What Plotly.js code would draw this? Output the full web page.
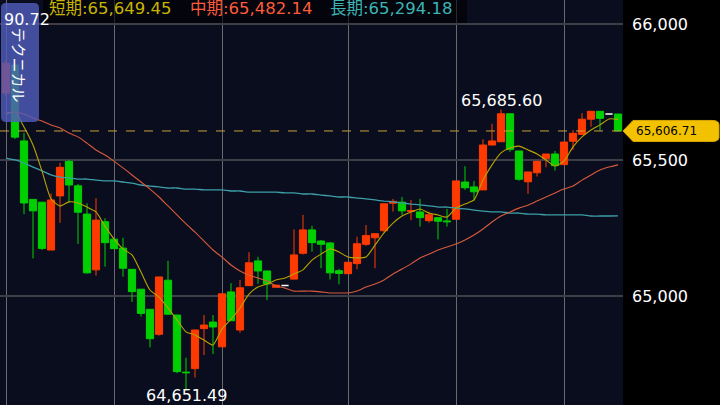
<!DOCTYPE html>
<html><head><meta charset="utf-8">
<script src="https://cdn.plot.ly/plotly-3.0.1.min.js"></script>
<style>html,body{margin:0;padding:0;background:#000;overflow:hidden}#chart{width:720px;height:405px;}</style>
</head><body><div id="chart"></div>
<script>
// candle index (one candle per bar)
const idx = Array.from({length: 69}, (_, i) => i);

const openP = [65746,65849,65570,65355,65345,65169,65368,65495,65405,65301,
 65096,65273,65209,65176,65098,65025,64951,64859,65058,64930,
 64720,64733,64880,64904,64813,65015,64875,65038,65129,65092,
 65032,65039,65062,65157,65243,65202,65195,65093,65082,65119,
 65190,65214,65240,65341,65345,65311,65309,65277,65288,65276,
 65282,65419,65401,65390,65555,65567,65670,65533,65420,65453,
 65505,65522,65483,65569,65594,65650,65679,65669,65669];
const highP = [65867,65856,65599,65355,65345,65377,65490,65500,65412,65341,
 65360,65286,65209,65214,65098,65025,64951,65070,65129,64930,
 64773,64875,64930,64930,65008,65047,65059,65161,65144,65092,
 65040,65039,65245,65298,65258,65206,65198,65100,65124,65218,
 65261,65229,65339,65357,65364,65353,65357,65310,65288,65320,
 65423,65477,65423,65576,65633,65685.60,65670,65533,65456,65495,
 65522,65533,65566,65610,65672,65679,65679,65669,65669];
const lowP = [65735,65577,65301,65138,65169,65169,65269,65343,65191,65083,
 65075,65108,65174,65071,64978,64924,64811,64854,64933,64716,
 64651.49,64700,64783,64787,64813,64909,64865,65038,65045,64985,
 65032,65039,65062,65152,65163,65102,65061,65043,65082,65098,
 65184,65102,65234,65310,65298,65279,65255,65269,65208,65255,
 65282,65390,65350,65390,65554,65567,65530,65424,65375,65439,
 65473,65461,65483,65537,65594,65622,65607,65669,65606.71];
const closeP = [65856,65584,65342,65313,65175,65353,65473,65408,65308,65085,
 65279,65196,65174,65102,65016,64936,64843,65070,64933,64722,
 64718,64875,64893,64886,65008,64909,65030,65122,65092,65044,
 65040,65039,65151,65243,65196,65190,65085,65083,65124,65192,
 65222,65229,65339,65348,65313,65314,65288,65299,65275,65273,
 65423,65398,65383,65555,65570,65670,65539,65429,65456,65495,
 65522,65479,65566,65598,65650,65679,65653,65669,65606.71];

// moving averages
const maShort = [65669,65676,65621,65555,65459,65357,65331,65346,65342,65327,
 65309,65257,65210,65173,65151,65088,65022,64996,64956,64912,
 64868,64857,64838,64820,64879,64915,64956,65007,65033,65044,
 65059,65066,65081,65096,65132,65154,65173,65162,65143,65140,
 65143,65187,65232,65268,65294,65309,65320,65305,65298,65290,
 65323,65338,65353,65426,65482,65526,65544,65551,65537,65522,
 65500,65478,65496,65548,65585,65610,65629,65651,65649.45];
const maMid = [65673,65676,65669,65654,65643,65629,65618,65599,65585,65562,
 65537,65518,65496,65471,65445,65419,65393,65364,65331,65298,
 65265,65235,65202,65169,65143,65114,65092,65077,65066,65055,
 65037,65029,65018,65018,65018,65015,65011,65011,65011,65018,
 65033,65044,65059,65081,65099,65118,65140,65154,65169,65180,
 65191,65206,65224,65246,65272,65294,65309,65323,65334,65349,
 65364,65379,65393,65404,65426,65445,65463,65474,65482.14];
const maLong = [65507,65500,65489,65474,65460,65445,65437,65434,65430,65430,
 65426,65423,65423,65419,65415,65408,65404,65401,65397,65397,
 65393,65393,65390,65390,65390,65386,65386,65382,65382,65382,
 65382,65379,65379,65375,65375,65371,65368,65364,65364,65360,
 65357,65353,65349,65346,65342,65338,65335,65331,65327,65327,
 65323,65320,65316,65312,65309,65309,65305,65305,65301,65301,
 65298,65298,65298,65298,65298,65294,65294,65294,65294.18];

const priceTicks = [65000, 65500, 66000];
const gridIdx = [0, 12, 24, 38, 50, 62];
const maNames = ['短期', '中期', '長期'];
// candles that carry the high / low labels in the picture
const hiLabelIdx = 55, loLabelIdx = 20;

const fmt = v => v.toLocaleString('en-US', {minimumFractionDigits: 2, maximumFractionDigits: 2});
const fmt0 = v => v.toLocaleString('en-US');

// split flat (open == close) candles, drawn white
const mainI = idx.filter(i => openP[i] !== closeP[i]);
const flatI = idx.filter(i => openP[i] === closeP[i]);
const pick = (arr, sel) => sel.map(i => arr[i]);

const UP = '#ff3a00', DN = '#00d000';
const cMA = ['#b8a400', '#d85a3c', '#3c9ea6'];
const cLeg = ['#c8b400', '#ff5a3c', '#3cb4b4'];

const traces = [
  {type: 'scatter', mode: 'lines', x: idx, y: maLong, line: {color: cMA[2], width: 1.3, shape: 'spline', smoothing: 0.6}, hoverinfo: 'skip'},
  {type: 'scatter', mode: 'lines', x: idx, y: maMid, line: {color: cMA[1], width: 1.1, shape: 'spline', smoothing: 0.6}, hoverinfo: 'skip'},
  {type: 'candlestick', x: pick(idx, mainI), open: pick(openP, mainI), high: pick(highP, mainI), low: pick(lowP, mainI), close: pick(closeP, mainI),
   increasing: {line: {color: UP, width: 1}, fillcolor: UP},
   decreasing: {line: {color: DN, width: 1}, fillcolor: DN},
   whiskerwidth: 0, hoverinfo: 'skip'},
  {type: 'candlestick', x: pick(idx, flatI), open: pick(openP, flatI), high: pick(highP, flatI), low: pick(lowP, flatI), close: pick(closeP, flatI),
   increasing: {line: {color: '#ffffff', width: 1.5}, fillcolor: '#ffffff'},
   decreasing: {line: {color: '#ffffff', width: 1.5}, fillcolor: '#ffffff'},
   whiskerwidth: 0, hoverinfo: 'skip'},
  {type: 'scatter', mode: 'lines', x: idx, y: maShort, line: {color: cMA[0], width: 1.1, shape: 'spline', smoothing: 0.6}, hoverinfo: 'skip'}
];

const last = closeP.length - 1;
const lastClose = closeP[last];
const W = 623; // plot width in px
const yPerPx = (66088.2 - 64599.2) / 405;

const F = 'DejaVu Sans, Noto Sans CJK JP, sans-serif';
const annotations = [
  {x: hiLabelIdx, y: highP[hiLabelIdx], xref: 'x', yref: 'y', text: fmt(highP[hiLabelIdx]), showarrow: false, yanchor: 'bottom', yshift: -2, font: {family: F, size: 16, color: '#ffffff'}},
  {x: loLabelIdx, y: lowP[loLabelIdx], xref: 'x', yref: 'y', text: fmt(lowP[loLabelIdx]), showarrow: false, yanchor: 'top', yshift: 7, font: {family: F, size: 16, color: '#ffffff'}},
  {x: 634 / W, y: lastClose, xref: 'paper', yref: 'y', text: fmt(lastClose), showarrow: false, xanchor: 'left', yanchor: 'middle', font: {family: F, size: 12, color: '#000000'}},
  {x: 2 / W, y: 1 - 19.5 / 405, xref: 'paper', yref: 'paper', text: '90.72', showarrow: false, xanchor: 'left', yanchor: 'middle', font: {family: F, size: 16, color: '#ffffff'}},
  {x: 19.5 / W, y: 1 - 65 / 405, xref: 'paper', yref: 'paper', text: 'テクニカル', textangle: 90, showarrow: false, xanchor: 'center', yanchor: 'middle', font: {family: 'Noto Sans CJK JP, sans-serif', size: 15, color: '#ffffff'}}
];
const legX = [47, 188, 328];
[maShort, maMid, maLong].forEach((arr, k) => {
  annotations.push({x: legX[k] / W, y: 1 - 8.5 / 405, xref: 'paper', yref: 'paper', xanchor: 'left', yanchor: 'middle', showarrow: false,
    text: maNames[k] + ':' + fmt(arr[arr.length - 1]), font: {family: F, size: 16.5, color: cLeg[k]}});
});

const tagH = 10.5 * yPerPx;
const px = v => v / W;
const shapes = [
  // legend strip
  {type: 'rect', xref: 'paper', yref: 'paper', x0: px(43), x1: px(467), y0: 1 - 23 / 405, y1: 1, fillcolor: 'rgba(0,0,0,0.6)', line: {width: 0}, layer: 'above'},
  // current price dashed line
  {type: 'line', xref: 'paper', yref: 'y', x0: 0, x1: 1, y0: lastClose, y1: lastClose, line: {color: '#c9a23a', width: 1, dash: 'dash'}, layer: 'above'},
  // current price tag
  {type: 'path', xref: 'paper', yref: 'y', layer: 'above', fillcolor: '#f2c200', line: {color: '#d9a600', width: 1},
   path: `M ${px(623)},${lastClose} L ${px(633)},${lastClose + tagH} L ${px(712)},${lastClose + tagH} Q ${px(719)},${lastClose + tagH} ${px(719)},${lastClose + tagH * 0.6} L ${px(719)},${lastClose - tagH * 0.6} Q ${px(719)},${lastClose - tagH} ${px(712)},${lastClose - tagH} L ${px(633)},${lastClose - tagH} Z`},
  // technical button overlay
  {type: 'path', xref: 'paper', yref: 'paper', layer: 'above', fillcolor: 'rgba(80,92,185,0.82)', line: {width: 0},
   path: `M ${px(1)},${1 - 8 / 405} Q ${px(1)},${1 - 3 / 405} ${px(6)},${1 - 3 / 405} L ${px(34)},${1 - 3 / 405} Q ${px(39)},${1 - 3 / 405} ${px(39)},${1 - 8 / 405} L ${px(39)},${1 - 117 / 405} Q ${px(39)},${1 - 122 / 405} ${px(34)},${1 - 122 / 405} L ${px(6)},${1 - 122 / 405} Q ${px(1)},${1 - 122 / 405} ${px(1)},${1 - 117 / 405} Z`}
];

const layout = {
  width: 720, height: 405,
  margin: {l: 0, r: 97, t: 0, b: 0},
  paper_bgcolor: '#000000',
  plot_bgcolor: '#0a0d1e',
  showlegend: false,
  boxgap: 0.2, boxgroupgap: 0,
  xaxis: {range: [-0.667, 68.556], tickvals: gridIdx, showticklabels: false, ticks: '', showgrid: true, gridcolor: '#6a6a6e', gridwidth: 1,
          zeroline: false, rangeslider: {visible: false}, showline: true, linecolor: '#55555c', linewidth: 2, fixedrange: true},
  yaxis: {range: [64599.2, 66088.2], side: 'right', tickvals: priceTicks, ticktext: priceTicks.map(fmt0), ticks: '', ticklabelstandoff: 8,
          tickfont: {family: F, size: 16, color: '#ffffff'}, showgrid: true, gridcolor: '#3e3e48', gridwidth: 2, zeroline: false, fixedrange: true},
  shapes, annotations
};

Plotly.newPlot('chart', traces, layout, {staticPlot: true, displayModeBar: false});
</script></body></html>
